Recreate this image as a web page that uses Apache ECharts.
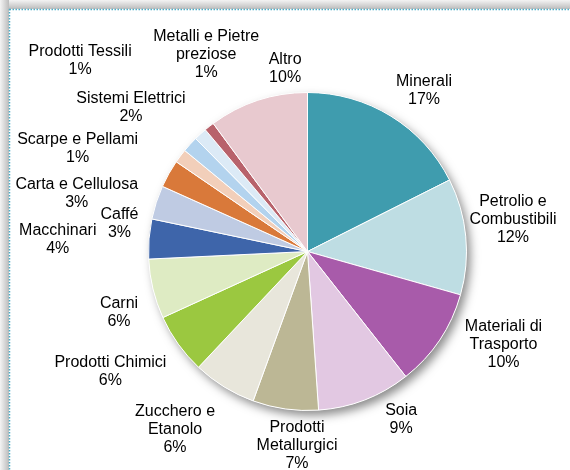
<!DOCTYPE html>
<html>
<head>
<meta charset="utf-8">
<script src="https://cdn.jsdelivr.net/npm/echarts@6/dist/echarts.min.js"></script>
<style>
html,body{margin:0;padding:0;background:#fff;}
#chart{width:570px;height:470px;}
</style>
</head>
<body>
<div id="chart"></div>
<script>
// ---- data ----
const categories = [
  'Minerali', 'Petrolio e\nCombustibili', 'Materiali di\nTrasporto', 'Soia',
  'Prodotti\nMetallurgici', 'Zucchero e\nEtanolo', 'Prodotti Chimici', 'Carni',
  'Macchinari', 'Caffé', 'Carta e Cellulosa', 'Scarpe e Pellami',
  'Sistemi Elettrici', 'Prodotti Tessili', 'Metalli e Pietre\npreziose', 'Altro'
];
const shares = [17.4, 11.7, 9.9, 9.4, 6.6, 6.4, 6.1, 6.0, 4.0, 3.4, 2.8, 1.4, 1.6, 1.3, 1.0, 10.0];

// ---- styles / layout ----
const colors = ['#3F9CAE', '#BEDDE3', '#A85BAA', '#E2C8E2', '#BCB795', '#E8E6DB', '#9BC840', '#DEEBC3',
  '#3E65AA', '#BFCBE3', '#D9793A', '#F2CFBA', '#B3D3EE', '#DCEAF6', '#B8626B', '#E8C9CF'];
// label placement relative to each slice: [angle shift in degrees, distance beyond pie edge]
const labelPlacement = [[4.2, 40], [-3.5, 49], [-8.4, 58], [-8.1, 33], [-4.9, 35], [5, 63], [4.2, 72], [-4.2, 39],
  [-1.9, 91], [-9.7, 31], [-15.1, 79], [-12.7, 93], [-3.1, 69], [-7.6, 138], [10.9, 62], [11.2, 25]];
const CX = 307.5, CY = 251.5, R = 159;

const total = shares.reduce((a, b) => a + b, 0);
const midAngles = [];
let acc = 0;
shares.forEach(v => { midAngles.push((acc + v / 2) / total * 360); acc += v; });

const chart = echarts.init(document.getElementById('chart'), null, {renderer: 'canvas'});
chart.setOption({
  backgroundColor: '#ffffff',
  animation: false,
  graphic: [
    {type: 'rect', z: 0, shape: {x: 0, y: 0, width: 570, height: 9},
      style: {fill: new echarts.graphic.LinearGradient(0, 0, 0, 1, [{offset: 0, color: '#f4f4f4'}, {offset: 1, color: '#bcbcbc'}])}},
    {type: 'rect', z: 0, shape: {x: 0, y: 0, width: 9, height: 470},
      style: {fill: new echarts.graphic.LinearGradient(0, 0, 1, 0, [{offset: 0, color: '#f4f4f4'}, {offset: 1, color: '#bcbcbc'}])}},
    {type: 'rect', z: 1, shape: {x: 9.5, y: 9.5, width: 600, height: 500},
      style: {fill: '#ffffff', stroke: '#4BACC6', lineWidth: 1.5, lineDash: [1.5, 1.5]}}
  ],
  series: [
    {
      type: 'pie', silent: true, z: 1,
      center: [CX, CY], radius: R,
      label: {show: false}, labelLine: {show: false},
      itemStyle: {color: '#ffffff', shadowBlur: 10, shadowOffsetX: 4, shadowOffsetY: 5, shadowColor: 'rgba(0,0,0,0.45)'},
      data: [{value: 1, name: 'shadow'}]
    },
    {
      type: 'pie', z: 2,
      center: [CX, CY], radius: R,
      startAngle: 90, clockwise: true,
      avoidLabelOverlap: false,
      itemStyle: {borderColor: '#ffffff', borderWidth: 1},
      label: {
        show: true, position: 'inside', overflow: 'none',
        fontFamily: 'Liberation Sans, Arial, sans-serif', fontSize: 16, lineHeight: 18,
        color: '#000000', align: 'center',
        formatter: p => p.name + '\n' + Math.round(shares[p.dataIndex]) + '%'
      },
      labelLine: {show: false},
      labelLayout: function (params) {
        const i = params.dataIndex;
        const a = (midAngles[i] + labelPlacement[i][0]) * Math.PI / 180;
        const d = R + labelPlacement[i][1];
        return {x: CX + d * Math.sin(a), y: CY - d * Math.cos(a), align: 'center', verticalAlign: 'middle'};
      },
      data: categories.map((c, i) => ({name: c, value: shares[i], itemStyle: {color: colors[i]}}))
    }
  ]
});
</script>
</body>
</html>
